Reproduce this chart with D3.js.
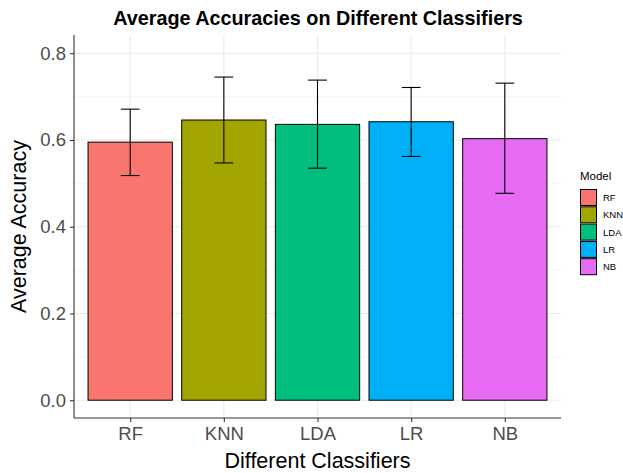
<!DOCTYPE html>
<html>
<head>
<meta charset="utf-8">
<script src="https://cdn.jsdelivr.net/npm/d3@7"></script>
<style>
  body { margin: 0; background: #fff; }
  text { font-family: "Liberation Sans", Arial, sans-serif; }
</style>
</head>
<body>
<div id="chart"></div>
<script>
// data
var models = ["RF", "KNN", "LDA", "LR", "NB"];
var accuracy = [0.595, 0.646, 0.636, 0.642, 0.603];
var errLow = [0.518, 0.547, 0.535, 0.562, 0.477];
var errHigh = [0.671, 0.745, 0.738, 0.721, 0.731];
var colors = ["#F8766D", "#A3A500", "#00BF7D", "#00B0F6", "#E76BF3"];
var yTicks = [0, 0.2, 0.4, 0.6, 0.8];
var yMinor = [0.1, 0.3, 0.5, 0.7];

var W = 623, H = 473;
var margin = {top: 35, right: 62, bottom: 55, left: 74};
var width = W - margin.left - margin.right,
    height = H - margin.top - margin.bottom;

var svg = d3.select("#chart").append("svg")
    .attr("width", W)
    .attr("height", H);

var g = svg.append("g")
    .attr("transform", "translate(" + margin.left + "," + margin.top + ")");

// ggplot-like scales: discrete with 0.6 expansion each side
var xScale = d3.scaleLinear().domain([0.4, 5.6]).range([0, width]);
var xPos = function(i) { return xScale(i + 1); };
var yScale = d3.scaleLinear().domain([-0.041, 0.842]).range([height, 0]);
var color = d3.scaleOrdinal().domain(models).range(colors);

// grid
g.selectAll(".minor").data(yMinor).enter().append("line")
    .attr("x1", 0).attr("x2", width)
    .attr("y1", function(d) { return yScale(d); })
    .attr("y2", function(d) { return yScale(d); })
    .attr("stroke", "#f2f2f2").attr("stroke-width", 0.6);
g.selectAll(".major").data(yTicks).enter().append("line")
    .attr("x1", 0).attr("x2", width)
    .attr("y1", function(d) { return yScale(d); })
    .attr("y2", function(d) { return yScale(d); })
    .attr("stroke", "#ebebeb").attr("stroke-width", 1.1);
g.selectAll(".vgrid").data(models).enter().append("line")
    .attr("x1", function(d, i) { return xPos(i); })
    .attr("x2", function(d, i) { return xPos(i); })
    .attr("y1", 0).attr("y2", height)
    .attr("stroke", "#ebebeb").attr("stroke-width", 1.1);

// bars
var bw = xScale(0.9) - xScale(0);
g.selectAll(".bar").data(models).enter().append("rect")
    .attr("x", function(d, i) { return xPos(i) - bw / 2; })
    .attr("width", bw)
    .attr("y", function(d, i) { return yScale(accuracy[i]); })
    .attr("height", function(d, i) { return yScale(0) - yScale(accuracy[i]); })
    .attr("fill", color)
    .attr("stroke", "#000").attr("stroke-width", 1);

// error bars
var ew = (xScale(0.2) - xScale(0)) / 2;
var eb = g.selectAll(".err").data(models).enter().append("g");
eb.append("line")
    .attr("x1", function(d, i) { return xPos(i); })
    .attr("x2", function(d, i) { return xPos(i); })
    .attr("y1", function(d, i) { return yScale(errLow[i]); })
    .attr("y2", function(d, i) { return yScale(errHigh[i]); });
eb.append("line")
    .attr("x1", function(d, i) { return xPos(i) - ew; })
    .attr("x2", function(d, i) { return xPos(i) + ew; })
    .attr("y1", function(d, i) { return yScale(errLow[i]); })
    .attr("y2", function(d, i) { return yScale(errLow[i]); });
eb.append("line")
    .attr("x1", function(d, i) { return xPos(i) - ew; })
    .attr("x2", function(d, i) { return xPos(i) + ew; })
    .attr("y1", function(d, i) { return yScale(errHigh[i]); })
    .attr("y2", function(d, i) { return yScale(errHigh[i]); });
eb.selectAll("line").attr("stroke", "#000").attr("stroke-width", 1.1);

// y axis
var yAxis = d3.axisLeft(yScale).tickValues(yTicks).tickSize(4).tickPadding(4)
    .tickFormat(d3.format(".1f"));
var ya = g.append("g").call(yAxis);
ya.select(".domain").attr("d", "M0," + height + "V0");

// x axis
var xAxis = d3.axisBottom(xScale).tickValues([1, 2, 3, 4, 5]).tickSize(4).tickPadding(5)
    .tickFormat(function(d) { return models[d - 1]; });
var xa = g.append("g").attr("transform", "translate(0," + height + ")").call(xAxis);
xa.select(".domain").attr("d", "M0,0H" + width);

[ya, xa].forEach(function(a) {
  a.select(".domain").attr("stroke", "#333").attr("stroke-width", 1.1);
  a.selectAll(".tick line").attr("stroke", "#333").attr("stroke-width", 1.1);
  a.selectAll(".tick text").attr("fill", "#4d4d4d")
    .style("font-size", "18.5px").style("font-family", "Liberation Sans, Arial, sans-serif");
});

// titles
svg.append("text")
    .attr("x", 318).attr("y", 25)
    .attr("text-anchor", "middle")
    .style("font-size", "19.8px").style("font-weight", "bold")
    .text("Average Accuracies on Different Classifiers");
svg.append("text")
    .attr("x", margin.left + width / 2).attr("y", 468)
    .attr("text-anchor", "middle")
    .style("font-size", "21.5px")
    .text("Different Classifiers");
svg.append("text")
    .attr("transform", "translate(26," + (margin.top + height / 2) + ") rotate(-90)")
    .attr("text-anchor", "middle")
    .style("font-size", "21.5px")
    .text("Average Accuracy");

// legend
var lg = svg.append("g").attr("transform", "translate(580,0)");
lg.append("text").attr("x", 0).attr("y", 180)
    .style("font-size", "11.5px").text("Model");
var item = lg.selectAll(".legend").data(models).enter().append("g")
    .attr("transform", function(d, i) { return "translate(0," + (189 + i * 17.3) + ")"; });
item.append("rect")
    .attr("x", 0.5).attr("y", 0.5).attr("width", 16).attr("height", 16)
    .attr("fill", color).attr("stroke", "#000").attr("stroke-width", 1);
item.append("text")
    .attr("x", 23).attr("y", 12)
    .style("font-size", "9.5px")
    .text(function(d) { return d; });
</script>
</body>
</html>
